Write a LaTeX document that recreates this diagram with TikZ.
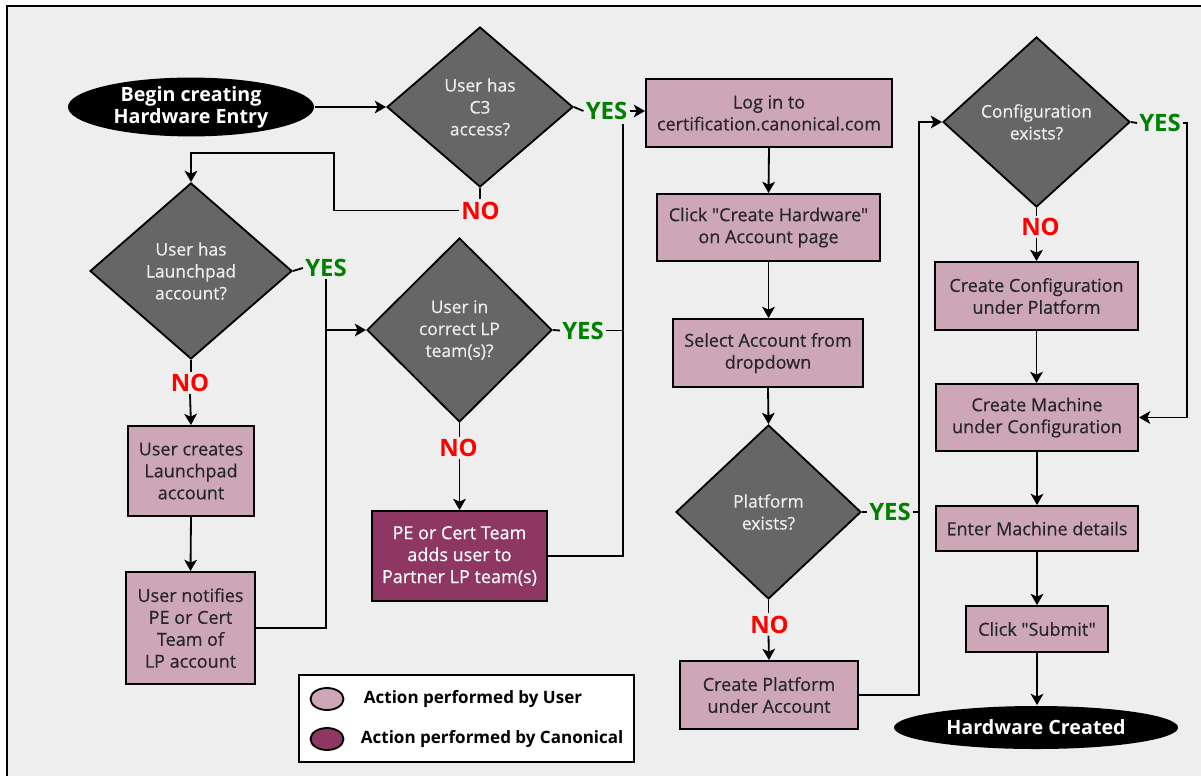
\documentclass[tikz,border=0pt]{standalone}
\usepackage{fontspec}
\setmainfont{Open Sans}[Ligatures=TeXOff]
\newfontfamily\boxfont{Open Sans}[Ligatures=TeXOff,FakeBold=0.4]
\usetikzlibrary{shapes.geometric,arrows.meta}
\definecolor{bggray}{HTML}{EEEEEE}
\definecolor{userpink}{HTML}{CDA6B7}
\definecolor{canonred}{HTML}{8E3763}
\definecolor{qgray}{HTML}{666666}
\definecolor{yesgreen}{HTML}{008000}
\begin{document}
\begin{tikzpicture}[x=0.025cm,y=-0.025cm,
    >={Stealth[length=8pt,width=9pt,inset=2pt]},
    line width=1.3pt,
    sz/.style 2 args={minimum width=#1cm,minimum height=#2cm},
    userbox/.style={rectangle,draw,fill=userpink,text=black!85,align=center,inner sep=0pt,font=\boxfont\fontsize{12.8}{15.6}\selectfont},
    canonbox/.style={userbox,fill=canonred,text=white},
    question/.style={diamond,draw,fill=qgray,text=bggray,align=center,inner sep=0pt,font=\boxfont\fontsize{12.4}{15.6}\selectfont},
    terminal/.style={ellipse,fill=black,text=white,align=center,inner sep=0pt,font=\bfseries\fontsize{14}{15.6}\selectfont},
    yeslabel/.style={text=yesgreen,inner sep=1pt,font=\bfseries\fontsize{17}{17}\selectfont},
    nolabel/.style={yeslabel,text=red}]
        \useasboundingbox (0,0) rectangle (1201,775);
        \draw[fill=bggray] (7,6) rectangle (1230,800);

        \node[terminal, sz={6.15}{1.3}] (begin) at (191,107) {Begin creating\\Hardware Entry};
        \node[question, sz={4.65}{4.0}] (c3) at (480,107) {User has\\C3\\access?};
        \node[question, sz={5.05}{4.4}] (lp) at (191,271) {User has\\Launchpad\\account?};
        \node[userbox, sz={3.15}{2.25}] (create) at (191,471) {User creates\\Launchpad\\account};
        \node[userbox, sz={3.225}{2.8}] (notify) at (190.5,628) {User notifies\\PE or Cert\\Team of\\LP account};
        \node[question, sz={4.625}{4.6}] (team) at (459.5,330) {User in\\correct LP\\team(s)?};
        \node[canonbox, sz={4.375}{2.25}] (pe) at (459.5,556) {PE or Cert Team\\adds user to\\Partner LP team(s)};

        \node[userbox, sz={6.15}{1.7}] (login) at (769,113) {Log in to\\certification.canonical.com};
        \node[userbox, sz={5.575}{1.675}] (click) at (768.5,227.5) {Click "Create Hardware"\\on Account page};
        \node[userbox, sz={4.75}{1.7}] (select) at (768,353) {Select Account from\\dropdown};
        \node[question, sz={4.625}{4.35}] (plat) at (768.5,512) {Platform\\exists?};
        \node[userbox, sz={4.45}{1.7}] (platbox) at (769,695) {Create Platform\\under Account};

        \node[question, sz={4.675}{4.25}] (conf) at (1036.5,122) {Configuration\\exists?};
        \node[userbox, sz={5.075}{1.7}] (cfgbox) at (1036.5,296) {Create Configuration\\under Platform};
        \node[userbox, sz={5.05}{1.675}] (machine) at (1037,417.5) {Create Machine\\under Configuration};
        \node[userbox, sz={5.05}{1.125}] (details) at (1037,528.5) {Enter Machine details};
        \node[userbox, sz={3.55}{1.15}] (submit) at (1037,629) {Click "Submit"};
        \node[terminal, sz={7.1}{1.075}] (done) at (1036,727.5) {Hardware Created};

        \node[yeslabel] (yesc3) at (606.5,111) {YES};
        \node[nolabel] (noc3) at (480.5,210.5) {NO};
        \node[yeslabel] (yeslp) at (326,268) {YES};
        \node[nolabel] (nolp) at (190,383) {NO};
        \node[yeslabel] (yesteam) at (583,330.5) {YES};
        \node[nolabel] (noteam) at (458.5,448) {NO};
        \node[yeslabel] (yesplat) at (890,512) {YES};
        \node[nolabel] (noplat) at (769.5,624.5) {NO};
        \node[yeslabel] (yesconf) at (1160,123) {YES};
        \node[nolabel] (noconf) at (1040.5,227) {NO};

        \coordinate (k1) at (334,153);
        \coordinate (j1) at (623,124);
        \coordinate (k2) at (919,122);
        \coordinate (k3) at (1187,417.5);

        \draw[->] (begin.east) -- (c3.west);
        \draw (c3.east) -- (yesc3.west);
        \draw[->] (yesc3.east) -- (yesc3.east -| login.west);
        \draw (c3.south) -- (c3.south |- noc3.north);
        \draw[->] (noc3.west) -| (k1) -| (lp.north);

        \draw (lp.east) -- (yeslp.west);
        \draw (notify.east) -| (yeslp.south);
        \draw[->] (yeslp.south |- team.west) -- (team.west);
        \draw (lp.south) -- (lp.south |- nolp.north);
        \draw[->] (nolp.south) -- (create.north);
        \draw[->] (create.south) -- (notify.north);

        \draw (team.east) -- (yesteam.west);
        \draw (yesteam.east) -- (yesteam.east -| j1);
        \draw (pe.east) -| (j1);
        \draw (team.south) -- (team.south |- noteam.north);
        \draw[->] (team.south |- noteam.south) -- (pe.north);

        \draw[->] (login.south) -- (click.north);
        \draw[->] (click.south) -- (click.south |- select.north);
        \draw[->] (select.south) -- (plat.north);
        \draw (plat.east) -- (yesplat.west);
        \draw (yesplat.east) -- (yesplat.east -| k2);
        \draw (plat.south) -- (plat.south |- noplat.north);
        \draw[->] (plat.south |- noplat.south) -- (platbox.north);
        \draw[->] (platbox.east) -| (k2) -- (conf.west);

        \draw (conf.east) -- (yesconf.west);
        \draw[->] (yesconf.east) -| (k3) -- (machine.east);
        \draw (conf.south) -- (conf.south |- noconf.north);
        \draw[->] (conf.south |- noconf.south) -- (cfgbox.north);
        \draw[->] (cfgbox.south) -- (cfgbox.south |- machine.north);
        \draw[->] (machine.south) -- (details.north);
        \draw[->] (details.south) -- (submit.north);
        \draw[->] (submit.south) -- (submit.south |- done.north);

        \draw[fill=white] (299,675) rectangle (634,762);
        \node[ellipse, draw, fill=userpink, inner sep=0pt, minimum width=0.825cm, minimum height=0.55cm] (keyuser) at (327,699) {};
        \node[ellipse, draw, fill=canonred, inner sep=0pt, minimum width=0.825cm, minimum height=0.55cm] (keycanon) at (327,739) {};
        \node[anchor=west, inner sep=0pt, font=\bfseries\fontsize{12.1}{12.5}\selectfont] (txtuser) at (363,699) {Action performed by User};
        \node[anchor=west, inner sep=0pt, font=\bfseries\fontsize{12.1}{12.5}\selectfont] (txtcanon) at (360,739) {Action performed by Canonical};
\end{tikzpicture}
\end{document}
